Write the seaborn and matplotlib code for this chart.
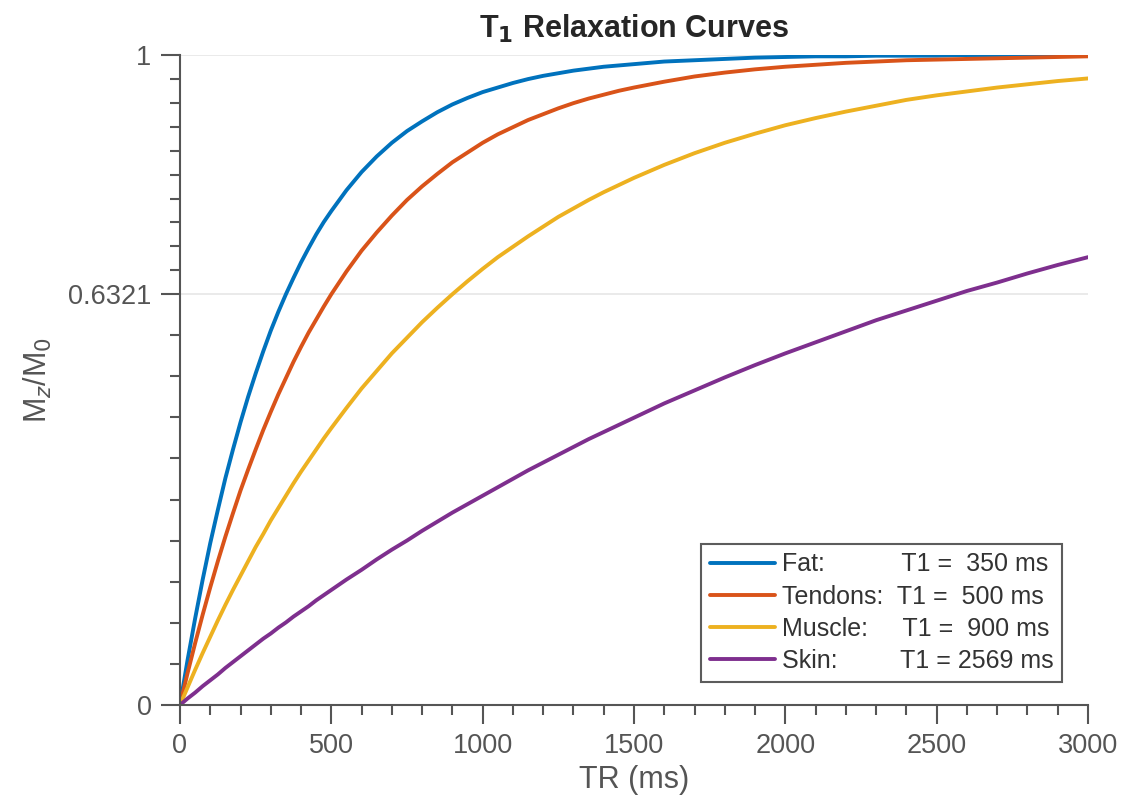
import pandas as pd
import seaborn as sns
import matplotlib.pyplot as plt
import numpy as np
from matplotlib.ticker import FixedLocator

# TR values (ms): dense where the curves bend fast
tr_ms = (list(range(0, 500, 25)) + list(range(500, 1500, 50))
         + list(range(1500, 3001, 100)))

# Mz/M0 at each TR
fat = [0.000, 0.069, 0.133, 0.193, 0.249, 0.300, 0.349, 0.393, 0.435, 0.474,
       0.510, 0.544, 0.576, 0.605, 0.632, 0.657, 0.681, 0.703, 0.724, 0.743,
       0.760, 0.792, 0.820, 0.844, 0.865, 0.883, 0.898, 0.912, 0.924, 0.934,
       0.943, 0.950, 0.957, 0.963, 0.968, 0.972, 0.976, 0.979, 0.982, 0.984,
       0.986, 0.990, 0.992, 0.994, 0.996, 0.997, 0.998, 0.998, 0.999, 0.999,
       0.999, 1.000, 1.000, 1.000, 1.000, 1.000]
tendons = [0.000, 0.049, 0.095, 0.139, 0.181, 0.221, 0.259, 0.295, 0.330, 0.362,
           0.393, 0.423, 0.451, 0.478, 0.503, 0.528, 0.551, 0.573, 0.593, 0.613,
           0.632, 0.667, 0.699, 0.727, 0.753, 0.777, 0.798, 0.817, 0.835, 0.850,
           0.865, 0.878, 0.889, 0.900, 0.909, 0.918, 0.926, 0.933, 0.939, 0.945,
           0.950, 0.959, 0.967, 0.973, 0.978, 0.982, 0.985, 0.988, 0.990, 0.992,
           0.993, 0.994, 0.995, 0.996, 0.997, 0.998]
muscle = [0.000, 0.027, 0.054, 0.080, 0.105, 0.130, 0.154, 0.177, 0.199, 0.221,
          0.243, 0.263, 0.284, 0.303, 0.322, 0.341, 0.359, 0.376, 0.393, 0.410,
          0.426, 0.457, 0.487, 0.514, 0.541, 0.565, 0.589, 0.611, 0.632, 0.652,
          0.671, 0.689, 0.705, 0.721, 0.736, 0.751, 0.764, 0.777, 0.789, 0.800,
          0.811, 0.831, 0.849, 0.865, 0.879, 0.892, 0.903, 0.913, 0.922, 0.931,
          0.938, 0.944, 0.950, 0.955, 0.960, 0.964]
skin = [0.000, 0.010, 0.019, 0.029, 0.038, 0.047, 0.057, 0.066, 0.075, 0.084,
        0.093, 0.102, 0.110, 0.119, 0.127, 0.136, 0.144, 0.152, 0.161, 0.169,
        0.177, 0.193, 0.208, 0.224, 0.239, 0.253, 0.268, 0.282, 0.296, 0.309,
        0.322, 0.335, 0.348, 0.361, 0.373, 0.385, 0.397, 0.409, 0.420, 0.431,
        0.442, 0.464, 0.484, 0.504, 0.523, 0.541, 0.558, 0.575, 0.592, 0.607,
        0.622, 0.637, 0.650, 0.664, 0.677, 0.689]

labels = ['Fat:' + ' ' * 11 + 'T1 =  350 ms',
          'Tendons:  T1 =  500 ms',
          'Muscle:' + ' ' * 5 + 'T1 =  900 ms',
          'Skin:' + ' ' * 9 + 'T1 = 2569 ms']
colors = ['#0072BD', '#D95319', '#EDB120', '#7E2F8E']

y_major = [0, 0.6321, 1]

# long-form table for seaborn
frames = []
for lab, vals in zip(labels, [fat, tendons, muscle, skin]):
    frames.append(pd.DataFrame({'TR': tr_ms, 'M': vals, 'tissue': lab}))
df = pd.concat(frames, ignore_index=True)

sns.set_style('white')
plt.rcParams['font.family'] = ['Liberation Sans', 'DejaVu Sans']

fig = plt.figure(figsize=(11.27, 8.07), dpi=100)
ax = fig.add_axes([0.1597, 0.1264, 0.8057, 0.8054])

sns.lineplot(data=df, x='TR', y='M', hue='tissue', hue_order=labels,
             palette=colors, lw=2.8, ax=ax)

gray = '#555555'
ax.set_xlim(0, 3000)
ax.set_ylim(0, 1)

# horizontal grid lines at the labelled y ticks
for yv in y_major:
    ax.axhline(yv, color='#e6e6e6', lw=1.2, zorder=0)

ax.set_xticks(range(0, 3001, 500))
ax.xaxis.set_minor_locator(FixedLocator(range(0, 3001, 100)))
ax.set_yticks(y_major)
ax.set_yticklabels(['0', '0.6321', '1'])
ymin = list(np.linspace(0, 0.6321, 11)) + list(np.linspace(0.6321, 1, 11))
ax.yaxis.set_minor_locator(FixedLocator(ymin))

ax.tick_params(which='major', direction='out', length=13.5, width=1.5,
               color=gray, labelcolor=gray, labelsize=19.5, pad=7,
               bottom=True, left=True)
ax.tick_params(which='minor', direction='out', length=7, width=1.5,
               color=gray, bottom=True, left=True)

for s in ['top', 'right']:
    ax.spines[s].set_visible(False)
for s in ['bottom', 'left']:
    ax.spines[s].set_color(gray)
    ax.spines[s].set_linewidth(1.5)

ax.set_xlabel('TR (ms)', fontsize=22, color=gray, labelpad=4)
ax.set_ylabel('M$_z$/M$_0$', fontsize=22, color=gray, labelpad=10)
ax.set_title('T$_\\mathbf{1}$ Relaxation Curves', fontsize=22,
             fontweight='bold', pad=12)

leg = ax.legend(loc='lower right', bbox_to_anchor=(0.9714, 0.0354),
                borderaxespad=0, fontsize=18, frameon=True, fancybox=False,
                handlelength=2.6, handletextpad=0.28, labelspacing=0.33,
                borderpad=0.35, title=None)
leg.get_frame().set_edgecolor('#333333')
leg.get_frame().set_linewidth(1.5)
for t in leg.get_texts():
    t.set_color('#333333')

fig.savefig('out.png', dpi=100, facecolor='white')
